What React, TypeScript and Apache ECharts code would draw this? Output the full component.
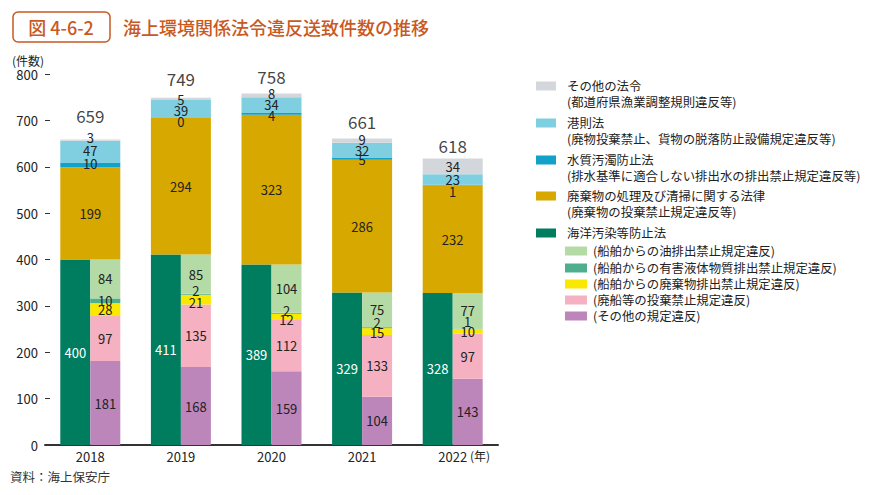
import React, { useEffect, useRef } from "react";
import * as echarts from "echarts";

const years = ["2018", "2019", "2020", "2021", "2022"];
// 海洋汚染等防止法 (total) and its breakdown
const marinePollution = [400, 411, 389, 329, 328];
const otherProvisions = [181, 168, 159, 104, 143];
const shipAbandonment = [97, 135, 112, 133, 97];
const wasteDischarge = [28, 21, 12, 15, 10];
const noxiousLiquid = [10, 2, 2, 2, 1];
const oilDischarge = [84, 85, 104, 75, 77];
// other laws
const wasteManagement = [199, 294, 323, 286, 232];
const waterPollution = [10, 0, 4, 5, 1];
const portRegulations = [47, 39, 34, 32, 23];
const otherLaws = [3, 5, 8, 9, 34];

const yTicks = [0, 100, 200, 300, 400, 500, 600, 700, 800];

// label nudges (px) for thin segments, as in the reference
const wasteDischargeNudge = [0, 3, 3, 1, 0];
const noxiousLiquidNudge = [0, -4, -3, -5, -7];
const waterPollutionNudge = [-1, 3, 2, 1, 6];
const portRegulationsNudge = [-1, 1, -1, 0, 0];
const otherLawsNudge = [-3, 1, -2, -1, 0];
const totalDistance = [15, 11, 8, 8, 4];

const mainLegend = [
  { l1: "その他の法令", l2: "(都道府県漁業調整規則違反等)", color: "#d3d7dc" },
  { l1: "港則法", l2: "(廃物投棄禁止、貨物の脱落防止設備規定違反等)", color: "#7fcfe1" },
  { l1: "水質汚濁防止法", l2: "(排水基準に適合しない排出水の排出禁止規定違反等)", color: "#12a1c9" },
  { l1: "廃棄物の処理及び清掃に関する法律", l2: "(廃棄物の投棄禁止規定違反等)", color: "#d7a900" },
  { l1: "海洋汚染等防止法", l2: "", color: "#007c5f" },
];
const subLegend = [
  { l1: "(船舶からの油排出禁止規定違反)", color: "#b4dba5" },
  { l1: "(船舶からの有害液体物質排出禁止規定違反)", color: "#4fae8d" },
  { l1: "(船舶からの廃棄物排出禁止規定違反)", color: "#fbe800" },
  { l1: "(廃船等の投棄禁止規定違反)", color: "#f5b1c1" },
  { l1: "(その他の規定違反)", color: "#bd86bb" },
];

const FONT = "'Noto Sans CJK JP', 'Noto Sans', sans-serif";

export default function App() {
  const ref = useRef<HTMLDivElement>(null);
  useEffect(() => {
    if (!ref.current) return;
    const chart = echarts.init(ref.current, undefined, { renderer: "svg" });
    const totals = years.map(
      (_, i) =>
        marinePollution[i] + wasteManagement[i] + waterPollution[i] + portRegulations[i] + otherLaws[i]
    );

    const lbl = (color = "#222") => ({
      show: true,
      position: "inside",
      color,
      fontSize: 13,
      fontFamily: FONT,
    });
    const withNudge = (vals: number[], nudge?: number[]) =>
      vals.map((v, i) => (nudge && nudge[i] ? { value: v, label: { offset: [0, nudge[i]] } } : v));

    const halfW = 30;
    const fullW = 60;

    const bar = (name: string, axis: number, stack: string, w: number, data: any[], color: string, labelColor = "#222") => ({
      name,
      type: "bar",
      xAxisIndex: axis,
      stack,
      barWidth: w,
      barGap: "0%",
      data,
      itemStyle: { color },
      label: lbl(labelColor),
    });

    const series: any[] = [
      bar("海洋汚染等防止法", 0, "left", halfW, marinePollution, mainLegend[4].color, "#fff"),
      bar("その他の規定違反", 0, "right", halfW, otherProvisions, subLegend[4].color),
      bar("廃船等の投棄禁止規定違反", 0, "right", halfW, shipAbandonment, subLegend[3].color),
      bar("船舶からの廃棄物排出禁止規定違反", 0, "right", halfW, withNudge(wasteDischarge, wasteDischargeNudge), subLegend[2].color),
      bar("船舶からの有害液体物質排出禁止規定違反", 0, "right", halfW, withNudge(noxiousLiquid, noxiousLiquidNudge), subLegend[1].color),
      bar("船舶からの油排出禁止規定違反", 0, "right", halfW, oilDischarge, subLegend[0].color),
      {
        name: "base",
        type: "bar",
        xAxisIndex: 1,
        stack: "full",
        barWidth: fullW,
        data: marinePollution,
        itemStyle: { color: "transparent" },
        label: { show: false },
        silent: true,
      },
      bar("廃棄物の処理及び清掃に関する法律", 1, "full", fullW, wasteManagement, mainLegend[3].color),
      bar("水質汚濁防止法", 1, "full", fullW, withNudge(waterPollution, waterPollutionNudge), mainLegend[2].color),
      bar("港則法", 1, "full", fullW, withNudge(portRegulations, portRegulationsNudge), mainLegend[1].color),
      bar("その他の法令", 1, "full", fullW, withNudge(otherLaws, otherLawsNudge), mainLegend[0].color),
      {
        name: "total",
        type: "scatter",
        xAxisIndex: 1,
        symbolSize: 0,
        data: totals.map((t, i) => ({
          value: t,
          label: { distance: totalDistance[i] },
        })),
        label: {
          show: true,
          position: "top",
          color: "#111",
          fontSize: 17,
          fontFamily: FONT,
        },
        silent: true,
      },
    ];

    const graphic: any[] = [
      {
        type: "rect",
        shape: { x: 13, y: 12, width: 97, height: 30, r: 5 },
        style: { fill: "#fff", stroke: "#c9591f", lineWidth: 1.5 },
      },
      {
        type: "text",
        x: 61,
        y: 27,
        style: {
          text: "図 4-6-2",
          fill: "#c9591f",
          fontSize: 18,
          fontWeight: 500,
          fontFamily: FONT,
          align: "center",
          verticalAlign: "middle",
        },
      },
      {
        type: "text",
        x: 123,
        y: 27,
        style: {
          text: "海上環境関係法令違反送致件数の推移",
          fill: "#c9591f",
          fontSize: 18,
          fontWeight: 500,
          fontFamily: FONT,
          verticalAlign: "middle",
        },
      },
      {
        type: "text",
        x: 12,
        y: 60,
        style: { text: "(件数)", fill: "#222", fontSize: 12, fontFamily: FONT, verticalAlign: "middle" },
      },
      {
        type: "text",
        x: 470,
        y: 455,
        style: { text: "(年)", fill: "#222", fontSize: 12, fontFamily: FONT, verticalAlign: "middle" },
      },
      {
        type: "text",
        x: 10,
        y: 476,
        style: { text: "資料：海上保安庁", fill: "#333", fontSize: 12.5, fontFamily: FONT, verticalAlign: "middle" },
      },
    ];

    const LEG_FS = 12.4;
    const mainY = [86, 123, 160, 196, 233];
    mainLegend.forEach((it, i) => {
      graphic.push({
        type: "rect",
        shape: { x: 536, y: mainY[i] - 4.5, width: 20, height: 9 },
        style: { fill: it.color },
      });
      graphic.push({
        type: "text",
        x: 567,
        y: mainY[i],
        style: { text: it.l1, fill: "#222", fontSize: LEG_FS, fontFamily: FONT, verticalAlign: "middle" },
      });
      if (it.l2) {
        graphic.push({
          type: "text",
          x: 567,
          y: mainY[i] + 16,
          style: { text: it.l2, fill: "#222", fontSize: LEG_FS, fontFamily: FONT, verticalAlign: "middle" },
        });
      }
    });
    const subY = [251, 268, 284, 300, 316];
    subLegend.forEach((it, i) => {
      graphic.push({
        type: "rect",
        shape: { x: 565, y: subY[i] - 4.5, width: 22, height: 9 },
        style: { fill: it.color },
      });
      graphic.push({
        type: "text",
        x: 593,
        y: subY[i],
        style: { text: it.l1, fill: "#222", fontSize: LEG_FS, fontFamily: FONT, verticalAlign: "middle" },
      });
    });

    chart.setOption({
      animation: false,
      backgroundColor: "#fff",
      textStyle: { fontFamily: FONT },
      grid: { left: 45, right: 373, top: 74, bottom: 50, containLabel: false },
      xAxis: [
        {
          type: "category",
          data: years,
          axisLine: { lineStyle: { color: "#333", width: 2 } },
          axisTick: { show: false },
          axisLabel: { color: "#222", fontSize: 13, margin: 5, fontFamily: FONT },
        },
        {
          type: "category",
          data: years,
          show: false,
          position: "bottom",
        },
      ],
      yAxis: {
        type: "value",
        min: 0,
        max: yTicks[yTicks.length - 1],
        interval: 100,
        axisLine: { show: false },
        axisTick: { show: true, inside: true, length: 5, lineStyle: { color: "#333" } },
        splitLine: { show: false },
        axisLabel: { color: "#222", fontSize: 13, margin: 7, fontFamily: FONT },
      },
      series,
      graphic,
    });
    return () => chart.dispose();
  }, []);
  return (
    <div
      ref={ref}
      style={{ position: "absolute", left: 0, top: 0, width: 871, height: 495 }}
    />
  );
}
